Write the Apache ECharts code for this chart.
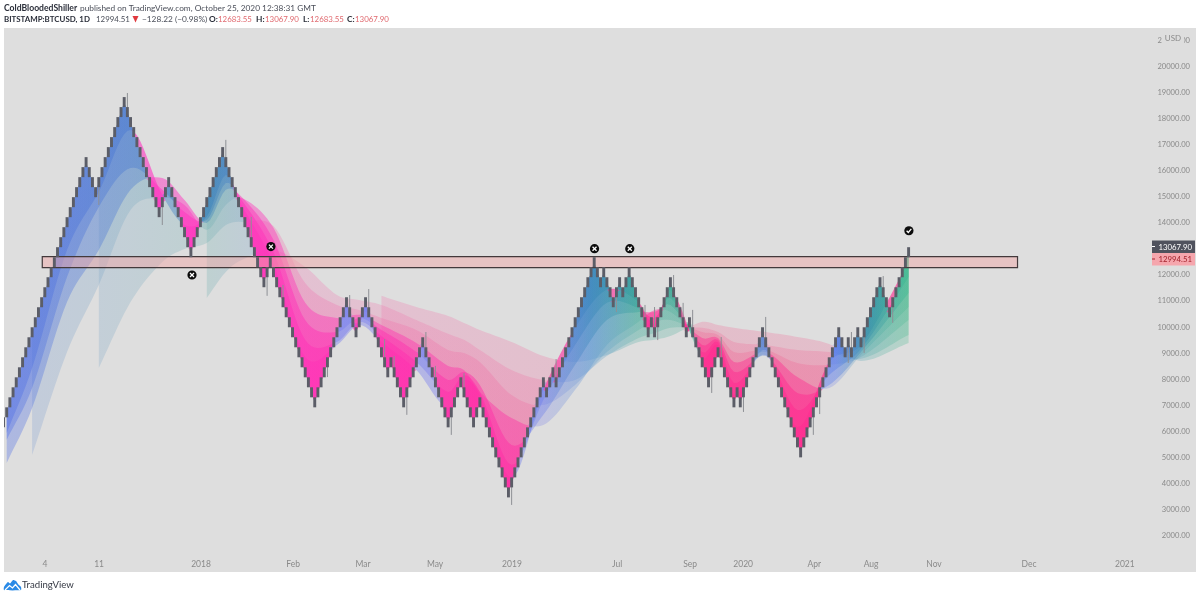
<!DOCTYPE html>
<html>
<head>
<meta charset="utf-8">
<style>
  html, body { margin: 0; padding: 0; background: #fff; }
  #brokeLine { width: 1200px; height: 597px; }
</style>
<script src="https://cdn.jsdelivr.net/npm/echarts@6/dist/echarts.min.js"></script>
</head>
<body>
<div id="brokeLine"></div>
<script>
// renko bricks, level of each brick top counted in boxes from the last close
var boxBase = 13067.9
var boxSize = 384.35
var brickLevels = [
  -17,
  -16, -15, -14, -13, -12, -11, -10, -9, -8, -7, -6, -5, -4, -3, -2, -1, 0, 1, 2, 3, 4, 5, 6, 7, 8, 9,
  8, 7, 6,
  7, 8, 9, 10, 11, 12, 13, 14, 15,
  14, 13, 12, 11, 10, 9, 8, 7, 6, 5, 4,
  5, 6, 7,
  6, 5, 4, 3, 2, 1, 0,
  1, 2, 3, 4, 5, 6, 7, 8, 9, 10,
  9, 8, 7, 6, 5, 4, 3, 2, 1, 0, -1, -2, -3,
  -2, -1,
  -2, -3, -4, -5, -6, -7, -8, -9, -10, -11, -12, -13, -14, -15,
  -14, -13, -12, -11, -10, -9, -8, -7, -6, -5,
  -6, -7, -8,
  -7, -6, -5,
  -6, -7, -8, -9, -10, -11, -12,
  -11,
  -12, -13, -14, -15,
  -14, -13, -12, -11, -10, -9,
  -10, -11, -12, -13, -14, -15, -16, -17,
  -16, -15, -14, -13,
  -14, -15, -16, -17,
  -16, -15,
  -16, -17, -18, -19, -20, -21, -22, -23, -24,
  -23, -22, -21, -20, -19, -18, -17, -16, -15, -14, -13,
  -14,
  -13, -12,
  -13,
  -12, -11, -10, -9, -8, -7, -6, -5, -4, -3, -2, -1,
  -2, -3,
  -2,
  -3, -4, -5,
  -4, -3,
  -4,
  -3, -2,
  -3, -4, -5, -6, -7, -8,
  -7,
  -8,
  -7, -6, -5, -4, -3,
  -4, -5, -6, -7, -8,
  -7,
  -8, -9, -10, -11, -12, -13,
  -12, -11, -10,
  -11, -12, -13, -14, -15,
  -14,
  -15,
  -14, -13, -12, -11, -10, -9, -8,
  -9, -10, -11, -12, -13, -14, -15, -16, -17, -18, -19, -20,
  -19, -18, -17, -16, -15, -14, -13, -12, -11, -10, -9, -8,
  -9, -10,
  -9,
  -10,
  -9, -8,
  -9,
  -8, -7, -6, -5, -4, -3,
  -4, -5, -6,
  -5, -4, -3, -2, -1, 0
]

// thin wicks: brick number and the price the wick reaches
var wickBricks = [39, 30, 50, 70, 78, 83, 88, 102, 109, 115, 120, 123, 127, 133, 136, 141, 145, 160, 174, 193, 202, 205, 206, 211, 214, 217, 223, 226, 233, 240, 255, 257, 266, 267, 271, 277, 280]
var wickEnds = [18990, 14690, 13920, 17190, 14230, 11200, 11620, 8080, 11230, 11460, 9540, 8890, 6630, 9810, 8510, 5860, 8240, 3170, 8770, 10580, 10850, 10770, 9500, 12000, 10930, 10660, 7470, 9620, 6740, 10390, 5860, 6660, 8620, 9810, 9000, 11960, 10160]

// moving averages read at these brick numbers, fastest first
var maKnots = [1, 9, 20, 30, 40, 50, 57, 64, 70, 75, 85, 95, 105, 112, 119, 130, 140, 145, 150, 160, 170, 180, 190, 200, 205, 210, 220, 225, 230, 240, 250, 260, 270, 285]
var ma1 = [5930, 8430, 12960, 15190, 17570, 15070, 13920, 14230, 15840, 14690, 12420, 8850, 9310, 10080, 9430, 8350, 6890, 7970, 7390, 4210, 7590, 9970, 11430, 10960, 10080, 11430, 8810, 9310, 7390, 9120, 6160, 8660, 9310, 12500]
var ma2 = [5670, 7660, 11920, 14610, 16110, 15270, 14420, 14110, 15530, 14880, 12880, 9510, 9430, 10200, 9660, 8660, 7510, 8160, 7510, 4710, 7200, 9310, 10930, 10730, 10350, 11120, 9040, 9430, 7850, 8930, 6820, 8160, 9160, 11920]
var ma3 = [4780, 6890, 10960, 12960, 15270, 15730, 14880, 14000, 15270, 15000, 13350, 10270, 9810, 10350, 9890, 9040, 7970, 8280, 7780, 5470, 6630, 8550, 10270, 10580, 10580, 10850, 9310, 9510, 8280, 8890, 7470, 7780, 9040, 11310]
var ma4 = [null, 5090, 9040, 11620, 14500, 14960, 14690, 13730, 14690, 14960, 13810, 10930, 10350, 10470, 10080, 9390, 8510, 8350, 7510, 6510, 6240, 7590, 9310, 10200, 10660, 10580, 9580, 9580, 8660, 9040, 8080, 7660, 8930, 10770]
var ma5 = [null, null, null, 8430, 10960, 12500, 13000, 13230, 13920, 14040, 13880, 11690, 10850, 10660, 10350, 9890, 9120, 9000, 8660, 7390, 7010, 7780, 9040, 9890, 10200, 10270, 9810, 9700, 9040, 9120, 8620, 8550, 8850, 10270]
var ma6 = [null, null, null, null, null, null, null, 11120, 12120, 12580, 12960, 12310, 11230, 11040, 10850, 10270, 9740, 9510, 9120, 8350, 7970, 7970, 8890, 9580, 9770, 9970, 9970, 9810, 9430, 9310, 9120, 9040, 8780, 9700]
var ma7 = [null, null, null, null, null, null, null, null, null, null, null, null, null, null, 11200, 10770, 10430, 10160, 9890, 9430, 8890, 8660, 8930, 9430, 9510, 9660, 10200, 10080, 9970, 9810, 9620, 9350, 8700, 9390]
var maLines = [ma1, ma2, ma3, ma4, ma5, ma6, ma7]

// the box drawn across the chart
var zoneBricks = [12.2, 319.3]
var zonePrices = [12281, 12703]

// round markers above and below the bricks
var markBricks = [59.35, 84.2, 186.1, 197.2, 285.1]
var markPrices = [12000, 13090, 13010, 13010, 13700]
var markKinds = ['x', 'x', 'x', 'x', 'v']

// axes
var yTicks = [2000, 3000, 4000, 5000, 6000, 7000, 8000, 9000, 10000, 11000, 12000, 14000, 15000, 16000, 17000, 18000, 19000, 20000, 21000]
var xTickBricks = [13.06, 30.1, 62.2, 91.2, 113.2, 135.9, 160.1, 193.2, 216.2, 232.9, 255.3, 273.2, 293, 322.9, 353.1]
var xTickNames = ['4', '11', '2018', 'Feb', 'Mar', 'May', '2019', 'Jul', 'Sep', '2020', 'Apr', 'Aug', 'Nov', 'Dec', '2021']

// fill colours along the chart
var riseStops = [1, 40, 64, 100, 150, 170, 185, 200, 225, 245, 262, 272, 285]
var riseFast = [[80, 110, 230], [65, 115, 210], [50, 125, 185], [110, 115, 240], [110, 115, 240], [100, 120, 235], [50, 130, 185], [45, 160, 150], [60, 170, 140], [100, 110, 240], [80, 120, 235], [50, 140, 170], [50, 185, 140]]
var riseSlow = [[135, 160, 215], [125, 170, 195], [110, 175, 175], [130, 140, 230], [130, 140, 230], [130, 135, 230], [90, 150, 210], [80, 175, 160], [80, 175, 150], [130, 140, 230], [125, 140, 230], [80, 170, 170], [70, 185, 140]]
var fallStops = [1, 130, 220, 285]
var fallFast = [[255, 60, 205], [255, 50, 175], [255, 45, 145], [255, 45, 145]]
var fallSlow = [[240, 120, 195], [240, 115, 170], [240, 105, 150], [240, 105, 150]]
var riseAlpha = [0.38, 0.36, 0.34, 0.3, 0.28, 0.28, 0.28]
var fallAlpha = [0.62, 0.56, 0.5, 0.44, 0.32, 0.27, 0.27]

var brickHalf = 0.46
var fontName = 'Lato, "Noto Sans", sans-serif'
var myChart = echarts.init(document.getElementById('brokeLine'))

function brickTop(i) {
  return boxBase + brickLevels[i] * boxSize
}
function brickMid(i) {
  return brickTop(i) - boxSize / 2
}

// smooth reading of a line between its knots
function curveAt(xs, ys, x) {
  var j = 0
  while (j < xs.length - 2 && xs[j + 1] < x) j++
  var a = j > 0 ? j - 1 : j
  var b = j + 2 < xs.length ? j + 2 : j + 1
  var h = xs[j + 1] - xs[j]
  var t = (x - xs[j]) / h
  var m0 = ((ys[j + 1] - ys[a]) / (xs[j + 1] - xs[a])) * h
  var m1 = ((ys[b] - ys[j]) / (xs[b] - xs[j])) * h
  var t2 = t * t
  var t3 = t2 * t
  return (2 * t3 - 3 * t2 + 1) * ys[j] + (t3 - 2 * t2 + t) * m0 + (-2 * t3 + 3 * t2) * ys[j + 1] + (t3 - t2) * m1
}

function gradient(api, stops, colors, alpha) {
  var x0 = api.coord([1, 0])[0]
  var x1 = api.coord([285, 0])[0]
  var list = stops.map(function(s, i) {
    var c = colors[i]
    return { offset: (s - 1) / 284, color: 'rgba(' + c[0] + ',' + c[1] + ',' + c[2] + ',' + alpha + ')' }
  })
  return new echarts.graphic.LinearGradient(x0, 0, x1, 0, list, true)
}

function renderRibbon(params, api) {
  var k = api.value(0)
  var xs = []
  var ys = []
  maLines[k].forEach(function(v, i) {
    if (v !== null) {
      xs.push(maKnots[i])
      ys.push(v)
    }
  })
  var riseTop = []
  var riseBottom = []
  var fallTop = []
  var fallBottom = []
  for (var i = xs[0]; i <= 285; i++) {
    var ma = curveAt(xs, ys, i)
    var mid = brickMid(i)
    riseTop.push(api.coord([i, Math.max(mid, ma)]))
    riseBottom.push(api.coord([i, ma]))
    fallTop.push(api.coord([i, ma]))
    fallBottom.push(api.coord([i, Math.min(mid, ma)]))
  }
  return {
    type: 'group',
    children: [
      {
        type: 'polygon',
        shape: { points: riseTop.concat(riseBottom.reverse()) },
        style: { fill: gradient(api, riseStops, k < 3 ? riseFast : riseSlow, riseAlpha[k]) }
      },
      {
        type: 'polygon',
        shape: { points: fallTop.concat(fallBottom.reverse()) },
        style: { fill: gradient(api, fallStops, k < 4 ? fallFast : fallSlow, fallAlpha[k]) }
      }
    ]
  }
}

function renderZone(params, api) {
  var a = api.coord([zoneBricks[0], zonePrices[1]])
  var b = api.coord([zoneBricks[1], zonePrices[0]])
  return {
    type: 'rect',
    shape: { x: a[0], y: a[1], width: b[0] - a[0], height: b[1] - a[1] },
    style: { fill: 'rgba(240,165,165,0.48)', stroke: '#43393b', lineWidth: 1.2 }
  }
}

function renderWick(params, api) {
  var a = api.coord([api.value(0), api.value(1)])
  var b = api.coord([api.value(0), brickMid(api.value(0))])
  return {
    type: 'line',
    shape: { x1: a[0], y1: a[1], x2: b[0], y2: b[1] },
    style: { stroke: '#8e9095', lineWidth: 1 }
  }
}

function renderBrick(params, api) {
  var i = api.value(0)
  var a = api.coord([i - brickHalf, brickTop(i)])
  var b = api.coord([i + brickHalf, brickTop(i) - boxSize])
  return {
    type: 'rect',
    shape: { x: a[0], y: a[1], width: b[0] - a[0], height: b[1] - a[1] },
    style: { fill: '#5b5d67' }
  }
}

function renderMark(params, api) {
  var p = api.coord([api.value(0), api.value(1)])
  var x = p[0]
  var y = p[1]
  var white = { stroke: '#fff', lineWidth: 1.3, fill: null }
  var inner
  if (markKinds[params.dataIndex] === 'x') {
    inner = [
      { type: 'line', shape: { x1: x - 2, y1: y - 2, x2: x + 2, y2: y + 2 }, style: white },
      { type: 'line', shape: { x1: x - 2, y1: y + 2, x2: x + 2, y2: y - 2 }, style: white }
    ]
  } else {
    inner = [
      { type: 'polyline', shape: { points: [[x - 2.3, y], [x - 0.6, y + 1.8], [x + 2.4, y - 1.8]] }, style: white }
    ]
  }
  return {
    type: 'group',
    children: [{ type: 'circle', shape: { cx: x, cy: y, r: 4.6 }, style: { fill: '#0c0c0c' } }].concat(inner)
  }
}

function headText(x, y, text, color, bold, size) {
  return {
    type: 'text',
    x: x,
    y: y,
    z: 100,
    style: {
      text: text,
      fill: color,
      font: (bold ? 'bold ' : '') + size + 'px ' + fontName,
      textVerticalAlign: 'middle'
    }
  }
}

function priceTag(y, fill, textColor, text) {
  return [
    { type: 'rect', z: 100, shape: { x: 1152, y: y, width: 43, height: 12.5 }, style: { fill: fill } },
    { type: 'line', z: 101, shape: { x1: 1152, y1: y + 6, x2: 1155, y2: y + 6 }, style: { stroke: textColor, lineWidth: 1 } },
    {
      type: 'text',
      z: 101,
      x: 1158.5,
      y: y + 6.5,
      style: { text: text, fill: textColor, font: '7.8px ' + fontName, textVerticalAlign: 'middle' }
    }
  ]
}

var darkText = '#2a2e39'
var redText = '#e0696f'
var headerItems = [
  headText(4, 8, 'ColdBloodedShiller', darkText, true, 8.6),
  headText(80, 8, 'published on TradingView.com, October 25, 2020 12:38:31 GMT', '#4a4e59', false, 8.3),
  headText(4, 19, 'BITSTAMP:BTCUSD, 1D', darkText, true, 7.9),
  headText(96, 19, '12994.51', '#4a4e59', false, 7.9),
  headText(142, 19, '\u2212128.22 (\u22120.98%)', '#4a4e59', false, 8.3),
  headText(209, 19, 'O:', darkText, true, 8.3),
  headText(218, 19, '12683.55', redText, false, 7.9),
  headText(256, 19, 'H:', darkText, true, 8.3),
  headText(265, 19, '13067.90', redText, false, 7.9),
  headText(303, 19, 'L:', darkText, true, 8.3),
  headText(310, 19, '12683.55', redText, false, 7.9),
  headText(347, 19, 'C:', darkText, true, 8.3),
  headText(355, 19, '13067.90', redText, false, 7.9),
  { type: 'polygon', z: 100, shape: { points: [[132.5, 16], [138.5, 16], [135.5, 22.5]] }, style: { fill: '#e0393e' } }
]

var footerItems = [
  {
    type: 'polygon',
    z: 100,
    shape: { points: [[4, 590], [4, 587], [8, 582], [10, 583.5], [13, 580], [16, 581], [18, 584], [21, 587], [21, 590]], smooth: 0.2 },
    style: { fill: '#2a8ae6' }
  },
  {
    type: 'polyline',
    z: 101,
    shape: { points: [[5, 590], [9.5, 585.5], [12.5, 588], [15.5, 584.5], [20, 590]] },
    style: { stroke: '#fff', lineWidth: 1.2, fill: null }
  },
  {
    type: 'text',
    z: 100,
    x: 22,
    y: 585,
    style: { text: 'TradingView', fill: '#363a45', font: '9.6px ' + fontName, textVerticalAlign: 'middle' }
  }
]

var usdItems = [
  { type: 'rect', z: 100, shape: { x: 1162, y: 32, width: 22, height: 13 }, style: { fill: '#dedede' } },
  {
    type: 'text',
    z: 101,
    x: 1173,
    y: 38,
    style: { text: 'USD', fill: '#8a8a8a', font: '8px ' + fontName, textAlign: 'center', textVerticalAlign: 'middle' }
  }
]

var option = {
  animation: false,
  backgroundColor: '#fff',
  grid: {
    show: true,
    left: 4,
    right: 4,
    top: 28,
    bottom: 25,
    backgroundColor: '#dedede',
    borderWidth: 0
  },
  xAxis: {
    type: 'value',
    min: 0.15,
    max: 375.5,
    axisLine: { show: false },
    axisTick: { show: false },
    splitLine: { show: false },
    axisLabel: {
      inside: true,
      margin: 3,
      color: '#8a8a8a',
      fontSize: 8.5,
      fontFamily: fontName,
      customValues: xTickBricks,
      formatter: function(v) {
        return xTickNames[xTickBricks.indexOf(v)]
      }
    }
  },
  yAxis: {
    type: 'value',
    position: 'right',
    min: 594,
    max: 21486,
    axisLine: { show: false },
    axisTick: { show: false },
    splitLine: { show: false },
    axisLabel: {
      inside: true,
      margin: 6,
      color: '#8a8a8a',
      fontSize: 7.6,
      fontFamily: fontName,
      customValues: yTicks,
      formatter: function(v) {
        return v.toFixed(2)
      }
    }
  },
  graphic: { elements: headerItems.concat(footerItems, usdItems, priceTag(240.5, '#4f525d', '#fff', boxBase.toFixed(2)), priceTag(253, '#f5a6ad', '#a3222c', '12994.51')) },
  series: [
    {
      type: 'custom',
      name: 'ribbons',
      z: 2,
      silent: true,
      clip: true,
      renderItem: renderRibbon,
      encode: { x: 0 },
      data: [[6], [5], [4], [3], [2], [1], [0]]
    },
    {
      type: 'custom',
      name: 'zone',
      z: 3,
      silent: true,
      renderItem: renderZone,
      data: [[zoneBricks[0], zonePrices[0]]]
    },
    {
      type: 'custom',
      name: 'wicks',
      z: 4,
      silent: true,
      renderItem: renderWick,
      encode: { x: 0, y: 1 },
      data: wickBricks.map(function(b, i) {
        return [b, wickEnds[i]]
      })
    },
    {
      type: 'custom',
      name: 'bricks',
      z: 5,
      silent: true,
      clip: true,
      renderItem: renderBrick,
      encode: { x: 0, y: 1 },
      data: brickLevels.map(function(l, i) {
        return [i, brickTop(i)]
      })
    },
    {
      type: 'custom',
      name: 'marks',
      z: 6,
      silent: true,
      renderItem: renderMark,
      encode: { x: 0, y: 1 },
      data: markBricks.map(function(b, i) {
        return [b, markPrices[i]]
      })
    }
  ]
}

myChart.setOption(option)
window.onresize = function() {
  myChart.resize()
}
</script>
</body>
</html>
